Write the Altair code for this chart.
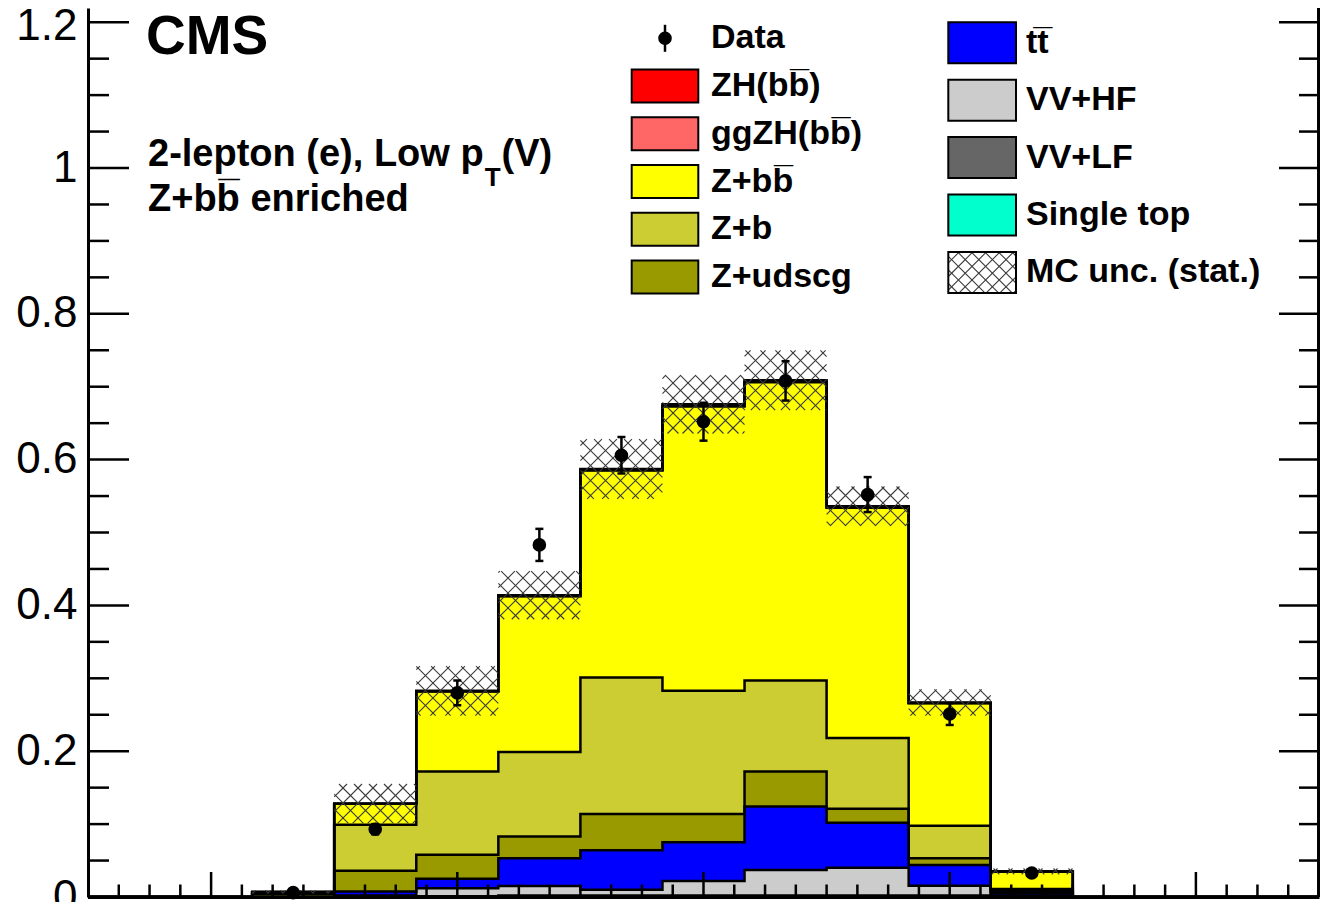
import altair as alt
import numpy as np
import pandas as pd

# ------------------------------------------------------------------ data
N_BINS = 15
X_RANGE = [-1.0, 1.0]
Y_TOP = 1.2195

# stacked backgrounds, bottom -> top
process_names = ["Single top", "VV+LF", "VV+HF", "tt", "Z+udscg", "Z+b", "Z+bb", "ggZH", "ZH"]
process_colors = ["#00ffcc", "#666666", "#cccccc", "#0000ff", "#999900", "#cccc33", "#ffff00", "#ff6666", "#ff0000"]

single_top = [0, 0, 0, 0, 0, 0, 0, 0, 0, 0, 0, 0, 0, 0, 0]
vv_lf = [0, 0, 0, 0.0005, 0.001, 0.002, 0.002, 0.002, 0.002, 0.002, 0.002, 0.001, 0, 0, 0]
vv_hf = [0, 0, 0, 0.0015, 0.011, 0.013, 0.008, 0.020, 0.035, 0.038, 0.0134, 0.001, 0, 0, 0]
ttbar = [0, 0, 0, 0.0055, 0.013, 0.038, 0.054, 0.053, 0.087, 0.062, 0.0286, 0.003, 0, 0, 0]
z_udscg = [0, 0, 0, 0.0285, 0.033, 0.030, 0.050, 0.039, 0.048, 0.019, 0.009, 0.003, 0, 0, 0]
z_b = [0, 0, 0.004, 0.063, 0.114, 0.116, 0.187, 0.169, 0.125, 0.097, 0.0447, 0.003, 0, 0, 0]
z_bb = [0, 0, 0.003, 0.029, 0.110, 0.2135, 0.284, 0.390, 0.409, 0.316, 0.168, 0.024, 0, 0, 0]
ggzh = [0, 0, 0, 0, 0.0003, 0.0005, 0.0007, 0.0008, 0.0008, 0.0006, 0.0003, 0, 0, 0, 0]
zh = [0, 0, 0, 0, 0.0005, 0.001, 0.0015, 0.002, 0.002, 0.0015, 0.0008, 0.0001, 0, 0, 0]
components = [single_top, vv_lf, vv_hf, ttbar, z_udscg, z_b, z_bb, ggzh, zh]

mc_unc = [0, 0, 0.002, 0.027, 0.034, 0.033, 0.041, 0.040, 0.041, 0.027, 0.018, 0.004, 0, 0, 0]

data_vals = [0, 0, 0.006, 0.093, 0.280, 0.483, 0.606, 0.652, 0.708, 0.552, 0.251, 0.033, 0, 0, 0]
data_errs = [0, 0, 0.002, 0.007, 0.017, 0.022, 0.025, 0.026, 0.027, 0.024, 0.015, 0.004, 0, 0, 0]

y_label_values = [0, 0.2, 0.4, 0.6, 0.8, 1.0, 1.2]

OB = "b\u0305"
legend_col1 = ["Data", "ZH(b" + OB + ")", "ggZH(b" + OB + ")", "Z+b" + OB, "Z+b", "Z+udscg"]
legend_col1_colors = [None, "#ff0000", "#ff6666", "#ffff00", "#cccc33", "#999900"]
legend_col2 = ["tt\u0305", "VV+HF", "VV+LF", "Single top", "MC unc. (stat.)"]
legend_col2_colors = ["#0000ff", "#cccccc", "#666666", "#00ffcc", None]

# ------------------------------------------------------------------ geometry
PAD_L = 80
W, H = 1231, 889
X0_PAGE, Y0_PAGE = 8 + PAD_L, 8
FONT = "Liberation Sans"


def rx(p):  # page x -> plot x
    return p - X0_PAGE


def ry(p):  # page y -> plot y
    return p - Y0_PAGE


def px_x(v):
    return (v - X_RANGE[0]) / (X_RANGE[1] - X_RANGE[0]) * W


def px_y(v):
    return (Y_TOP - v) / Y_TOP * H


def dx(p):
    return X_RANGE[0] + p / W * (X_RANGE[1] - X_RANGE[0])


def dy(p):
    return Y_TOP - p / H * Y_TOP


edges = np.linspace(X_RANGE[0], X_RANGE[1], N_BINS + 1)
centers = 0.5 * (edges[:-1] + edges[1:])

# stacked table (step-after points on bin edges)
rows = []
cum = np.zeros(N_BINS)
for name, vals in zip(process_names, components):
    lo = cum.copy()
    hi = cum + np.array(vals, dtype=float)
    for j in range(N_BINS + 1):
        b = min(j, N_BINS - 1)
        rows.append({"proc": name, "x": edges[j], "lo": lo[b], "hi": hi[b]})
    cum = hi
stack_df = pd.DataFrame(rows)
total = cum


# hatch (cross-hatched MC stat band)
def hatch_segments(x0, x1, y0, y1, spacing=15.0):
    segs = []
    for k in range(int(np.floor((x0 - y1) / spacing)) - 1, int(np.ceil((x1 - y0) / spacing)) + 2):
        c = k * spacing
        xa, xb = max(x0, y0 + c), min(x1, y1 + c)
        if xb - xa > 0.3:
            segs.append((xa, xa - c, xb, xb - c))
    for k in range(int(np.floor((x0 + y0) / spacing)) - 1, int(np.ceil((x1 + y1) / spacing)) + 2):
        c = k * spacing
        xa, xb = max(x0, c - y1), min(x1, c - y0)
        if xb - xa > 0.3:
            segs.append((xa, c - xa, xb, c - xb))
    return segs


hrows = []
for i in range(N_BINS):
    if mc_unc[i] <= 0:
        continue
    X0, X1 = px_x(edges[i]), px_x(edges[i + 1])
    Yt, Yb = px_y(total[i] + mc_unc[i]), px_y(max(total[i] - mc_unc[i], 0))
    for (a, b, c, d) in hatch_segments(X0, X1, Yt, Yb):
        hrows.append({"x": dx(a), "y": dy(b), "x2": dx(c), "y2": dy(d)})

# legend geometry (page coordinates -> plot coordinates)
C1_BOX = (rx(631.7), rx(698.3))
C1_TXT = rx(711)
C1_Y = [ry(v) for v in [38.3, 86.0, 133.7, 181.5, 229.3, 277.0]]
C1_H = 33
C2_BOX = (rx(948.3), rx(1016.0))
C2_TXT = rx(1026)
C2_Y = [ry(v) for v in [42.8, 100.2, 157.6, 215.0, 272.4]]
C2_H = 41

hb_y0, hb_y1 = C2_Y[4] - C2_H / 2, C2_Y[4] + C2_H / 2
for (a, b, c, d) in hatch_segments(C2_BOX[0], C2_BOX[1], hb_y0, hb_y1, 13.6):
    hrows.append({"x": dx(a), "y": dy(b), "x2": dx(c), "y2": dy(d)})
hatch_df = pd.DataFrame(hrows)

mask = np.array(data_vals) > 0
data_df = pd.DataFrame({
    "x": centers[mask],
    "y": np.array(data_vals)[mask],
    "lo": (np.array(data_vals) - np.array(data_errs))[mask],
    "hi": (np.array(data_vals) + np.array(data_errs))[mask],
})

# ------------------------------------------------------------------ scales / axes
XS = alt.Scale(domain=X_RANGE, nice=False, zero=False)
YS = alt.Scale(domain=[0, Y_TOP], nice=False, zero=False)
AX = alt.Axis(labels=False, ticks=False, grid=False, domain=True, domainColor="black",
              domainWidth=3, title=None)
AY = alt.Axis(values=y_label_values, format="~g", labelFont=FONT, labelFontSize=44,
              labelColor="black", labelPadding=11, ticks=False, grid=False, domain=True,
              domainColor="black", domainWidth=3, title=None,
              labelOffset={"condition": {"test": "datum.value > 1.1", "value": 4}, "value": 0})

layers = []

area = alt.Chart(stack_df).mark_area(interpolate="step-after", opacity=1).encode(
    x=alt.X("x:Q", scale=XS, axis=AX),
    y=alt.Y("hi:Q", scale=YS, axis=AY, stack=None),
    y2="lo:Q",
    color=alt.Color("proc:N", scale=alt.Scale(domain=process_names, range=process_colors), legend=None),
)
layers.append(area)

outline = alt.Chart(stack_df).mark_line(interpolate="step-after", color="black", strokeWidth=2.5).encode(
    x=alt.X("x:Q", scale=XS, axis=AX),
    y=alt.Y("hi:Q", scale=YS, axis=AY),
    detail="proc:N",
)
layers.append(outline)

hatch = alt.Chart(hatch_df).mark_rule(color="#3a3a3a", strokeWidth=1.1).encode(
    x=alt.X("x:Q", scale=XS, axis=AX), x2="x2:Q",
    y=alt.Y("y:Q", scale=YS, axis=AY), y2="y2:Q",
)
layers.append(hatch)

# ticks (inward, ROOT style)
y_major = pd.DataFrame({"v": y_label_values[1:]})
y_minor = pd.DataFrame({"v": [round(0.05 * k, 3) for k in range(1, 25) if k % 4]})
x_major = pd.DataFrame({"v": [round(-1 + 0.05 * k, 3) for k in range(1, 40) if k % 8 == 4]})
x_minor = pd.DataFrame({"v": [round(-1 + 0.05 * k, 3) for k in range(1, 40) if k % 8 != 4]})

for df, a, b in [(y_major, 0, 41), (y_minor, 0, 21), (y_major, W - 40, W), (y_minor, W - 20, W)]:
    layers.append(alt.Chart(df).mark_rule(color="black", strokeWidth=2.5).encode(
        y=alt.Y("v:Q", scale=YS, axis=AY), x=alt.value(a), x2=alt.value(b)))
for df, ln in [(x_major, 25), (x_minor, 12.5)]:
    layers.append(alt.Chart(df).mark_rule(color="black", strokeWidth=2.5).encode(
        x=alt.X("v:Q", scale=XS, axis=AX), y=alt.value(H), y2=alt.value(H - ln)))

# right frame line
layers.append(alt.Chart(y_major).mark_rule(color="black", strokeWidth=3).encode(
    x=alt.value(W), y=alt.value(0), y2=alt.value(H)))

# data points
layers.append(alt.Chart(data_df).mark_rule(color="black", strokeWidth=2.5).encode(
    x=alt.X("x:Q", scale=XS, axis=AX), y=alt.Y("lo:Q", scale=YS, axis=AY), y2="hi:Q"))
for fld in ["lo", "hi"]:
    layers.append(alt.Chart(data_df).mark_tick(color="black", orient="horizontal", size=8,
                                                thickness=2.5, opacity=1).encode(
        x=alt.X("x:Q", scale=XS, axis=AX), y=alt.Y(fld + ":Q", scale=YS, axis=AY)))
layers.append(alt.Chart(data_df).mark_circle(color="black", size=185, opacity=1).encode(
    x=alt.X("x:Q", scale=XS, axis=AX), y=alt.Y("y:Q", scale=YS, axis=AY)))

one = pd.DataFrame({"k": [0]})


def text(s, x, y, size, align="left", baseline="alphabetic"):
    return alt.Chart(one).mark_text(font=FONT, fontWeight="bold", fontSize=size, color="black",
                                    align=align, baseline=baseline).encode(
        x=alt.value(x), y=alt.value(y), text=alt.value(s))


# header texts
layers.append(text("CMS", rx(146), ry(54), 55))
layers.append(text("2-lepton (e), Low p", rx(148), ry(165.7), 38))
layers.append(text("T", rx(484.7), ry(186), 26))
layers.append(text("(V)", rx(501.6), ry(165.7), 38))
layers.append(text("Z+b" + OB + " enriched", rx(148), ry(210.7), 38))


def box(x0, x1, yc, h, fill):
    return alt.Chart(one).mark_rect(fill=fill, stroke="black", strokeWidth=2).encode(
        x=alt.value(x0), x2=alt.value(x1), y=alt.value(yc - h / 2), y2=alt.value(yc + h / 2))


# legend column 1
for lab, col, yc in zip(legend_col1, legend_col1_colors, C1_Y):
    if col is None:
        xm = rx(665)
        layers.append(alt.Chart(one).mark_rule(color="black", strokeWidth=2.5).encode(
            x=alt.value(xm), y=alt.value(yc - 13.5), y2=alt.value(yc + 13.5)))
        layers.append(alt.Chart(one).mark_circle(color="black", size=185, opacity=1).encode(
            x=alt.value(xm), y=alt.value(yc)))
    else:
        layers.append(box(C1_BOX[0], C1_BOX[1], yc, C1_H, col))
    layers.append(text(lab, C1_TXT, yc, 34, baseline="middle"))

# legend column 2
for lab, col, yc in zip(legend_col2, legend_col2_colors, C2_Y):
    if col is None:
        layers.append(alt.Chart(one).mark_rect(fillOpacity=0, stroke="black", strokeWidth=2).encode(
            x=alt.value(C2_BOX[0]), x2=alt.value(C2_BOX[1]),
            y=alt.value(yc - C2_H / 2), y2=alt.value(yc + C2_H / 2)))
    else:
        layers.append(box(C2_BOX[0], C2_BOX[1], yc, C2_H, col))
    layers.append(text(lab, C2_TXT, yc, 34, baseline="middle"))

chart = alt.layer(*layers).properties(
    width=W, height=H,
    padding={"left": PAD_L, "top": 0, "right": 1, "bottom": 5},
    autosize=alt.AutoSizeParams(type="none"),
    background="white",
).configure_view(strokeWidth=0)

chart.save("out.html", embed_options={"renderer": "svg", "actions": False})
